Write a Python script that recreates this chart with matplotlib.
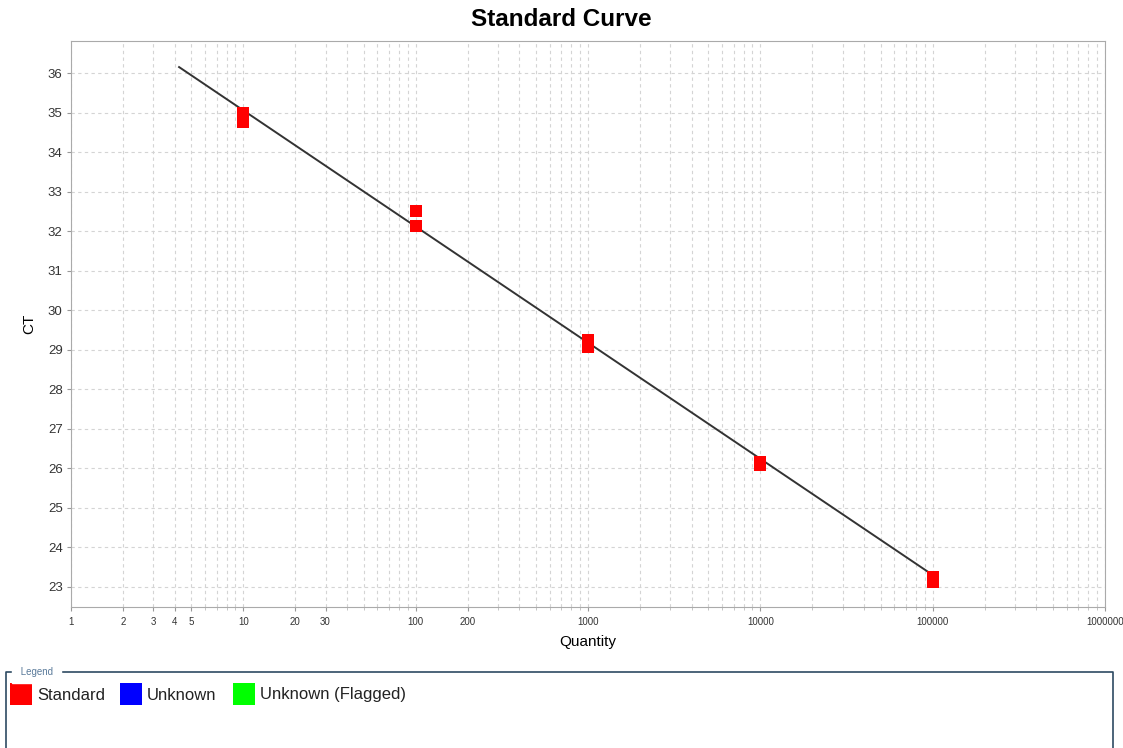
import numpy as np
import matplotlib
matplotlib.use("Agg")
import matplotlib.pyplot as plt
from matplotlib.ticker import FixedLocator, FixedFormatter, LogLocator, NullFormatter
from matplotlib.patches import Rectangle

plt.rcParams["font.family"] = ["Liberation Sans", "DejaVu Sans"]

# standard replicates (quantity, Ct)
std_qty = [10, 10, 100, 100, 1000, 1000, 10000, 10000, 100000, 100000]
std_ct = [34.98, 34.75, 32.52, 32.14, 29.25, 29.06, 26.16, 26.07, 23.24, 23.11]

# fitted standard curve end points
fit_qty = [4.24, 100000]
fit_ct = [36.15, 23.30]

xtick_vals = [1, 2, 3, 4, 5, 10, 20, 30, 100, 200, 1000, 10000, 100000, 1000000]
xtick_labels = [str(v) for v in xtick_vals]
ytick_vals = list(range(23, 37))

legend_names = ["Standard", "Unknown", "Unknown (Flagged)"]
legend_colors = ["#ff0000", "#0000ff", "#00ff00"]

fig = plt.figure(figsize=(11.23, 7.48), dpi=100)
ax = fig.add_axes([0.0632, 0.1885, 0.9208, 0.7567])

ax.set_xscale("log")
ax.set_xlim(1, 1000000)
ax.set_ylim(22.49, 36.81)

ax.grid(True, which="both", axis="x", color="#d4d4d4", linestyle=(0, (3, 3)), linewidth=0.8)
ax.grid(True, which="major", axis="y", color="#d4d4d4", linestyle=(0, (3, 3)), linewidth=0.8)
ax.set_axisbelow(True)

ax.plot(fit_qty, fit_ct, color="#333333", linewidth=1.4, zorder=2)
ax.plot(std_qty, std_ct, linestyle="none", marker="s", markersize=9,
        color="#ff0000", markeredgewidth=0, zorder=3)

ax.xaxis.set_major_locator(FixedLocator(xtick_vals))
ax.xaxis.set_major_formatter(FixedFormatter(xtick_labels))
ax.xaxis.set_minor_locator(LogLocator(base=10, subs=np.arange(2, 10)))
ax.xaxis.set_minor_formatter(NullFormatter())
ax.set_yticks(ytick_vals)

ax.tick_params(axis="x", which="major", labelsize=7, length=3, color="#999999", pad=4)
ax.tick_params(axis="x", which="minor", length=2, color="#bbbbbb")
ax.tick_params(axis="y", labelsize=9.5, length=3, color="#999999", pad=3)
for lbl in ax.get_xticklabels() + ax.get_yticklabels():
    lbl.set_color("#333333")
for s in ax.spines.values():
    s.set_color("#aaaaaa")

W, H = 1123, 748
def fx(px):
    return px / W
def fy(py):
    return 1 - py / H

fig.text(0.5, fy(20), "Standard Curve", fontsize=17.5, fontweight="bold",
         ha="center", va="center")
ax.set_xlabel("Quantity", fontsize=11, labelpad=6)
ax.set_ylabel("CT", fontsize=11, labelpad=8)

# legend panel at the bottom
frame = plt.Line2D([fx(6), fx(6), fx(1113), fx(1113)],
                   [fy(748), fy(672), fy(672), fy(748)],
                   transform=fig.transFigure, color="#2e4a62", linewidth=1.2)
fig.add_artist(frame)
fig.text(fx(18), fy(672), " Legend ", fontsize=7, color="#5a7a9a",
         va="center", ha="left", backgroundcolor="white")

sq_x = [10, 120, 233]
for x0, name, col in zip(sq_x, legend_names, legend_colors):
    fig.add_artist(Rectangle((fx(x0), fy(705)), fx(22), 22 / H,
                             transform=fig.transFigure, facecolor=col,
                             edgecolor="none"))
    fig.text(fx(x0 + 27), fy(695), name, fontsize=12, va="center", ha="left",
             color="#222222")

fig.savefig("out.png", dpi=100)
